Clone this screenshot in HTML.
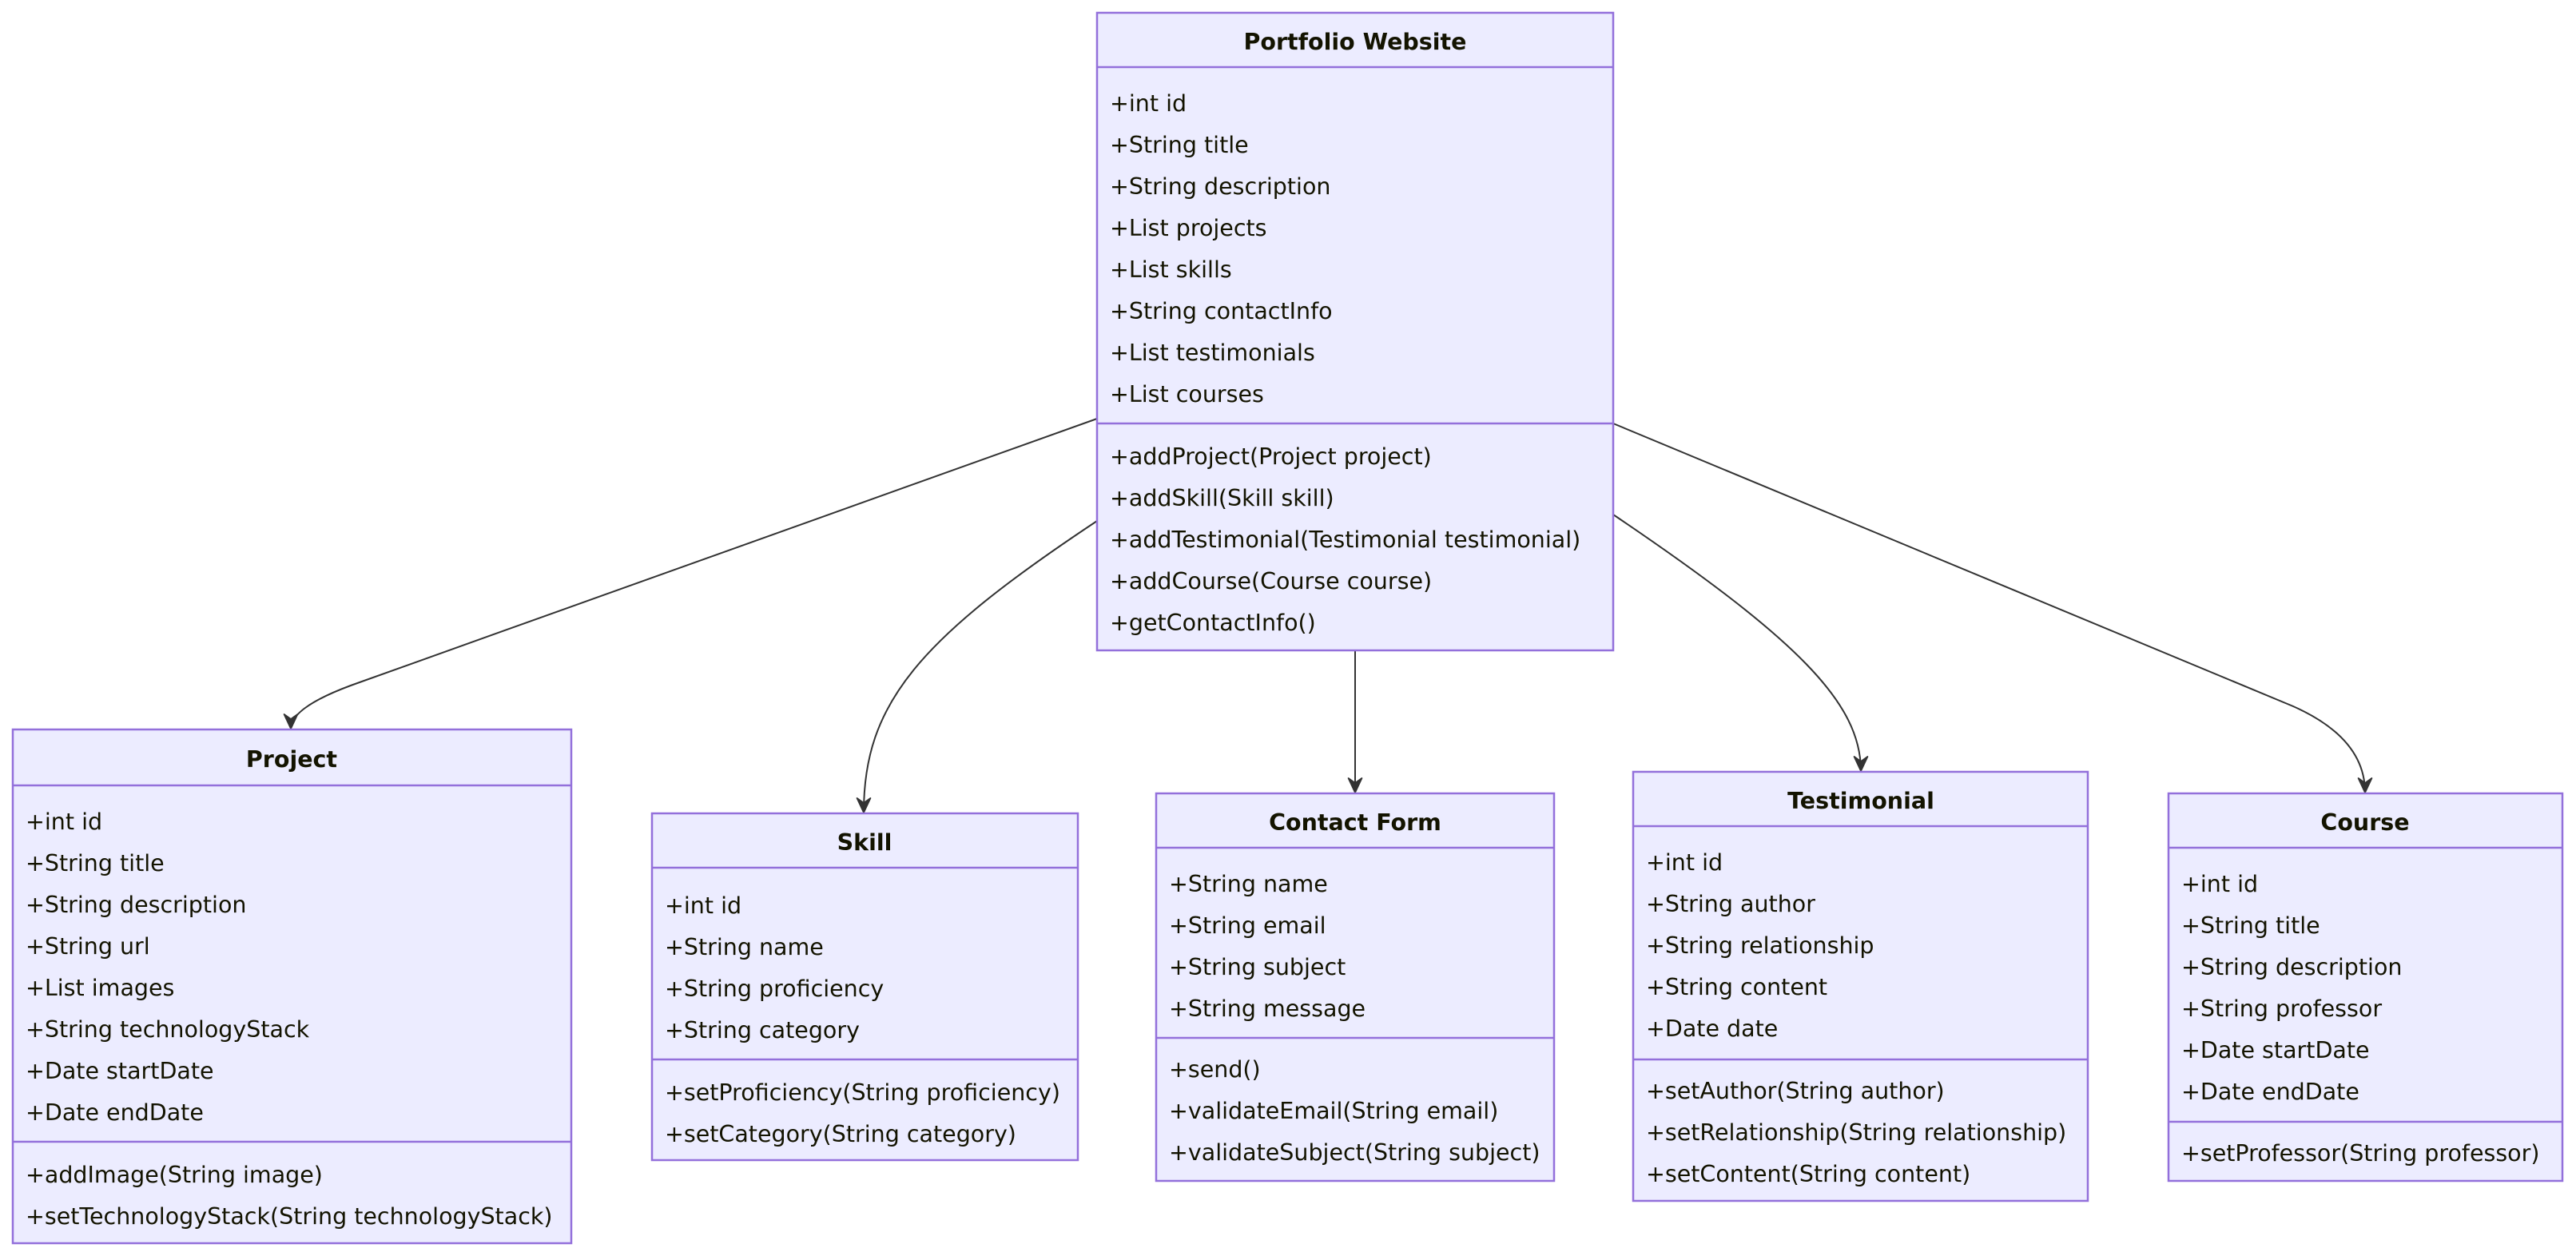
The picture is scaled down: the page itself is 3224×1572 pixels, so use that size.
<!DOCTYPE html>
<html><head><meta charset="utf-8"><style>
html,body{margin:0;padding:0;background:#fff;}
svg{display:block;}
text{font-family:"DejaVu Sans","Liberation Sans",sans-serif;font-size:28.5px;fill:#131300;dominant-baseline:middle;}
.h{font-weight:bold;text-anchor:middle;}
rect{fill:#ECECFF;stroke:#9370DB;stroke-width:2.5;}
line.d{stroke:#9370DB;stroke-width:2.5;}
path.e{fill:none;stroke:#333;stroke-width:2;}
</style></head><body>
<svg width="3224" height="1572" viewBox="0 0 3224 1572" xmlns="http://www.w3.org/2000/svg">
<defs>
<marker id="a" viewBox="0 0 20 20" refX="18" refY="10" markerWidth="24" markerHeight="24" markerUnits="userSpaceOnUse" orient="auto">
<path d="M3,3 L18,10 L3,17 L8,10 Z" fill="#333" stroke="#333" stroke-width="1.5" stroke-linejoin="round"/>
</marker>
</defs>
<g transform="translate(0,4)">
<path class="e" d="M1373,520 L450,850 Q364,880 364,908" marker-end="url(#a)"/>
<path class="e" d="M1373,648 C1150,796 1081,876 1081,1013" marker-end="url(#a)"/>
<path class="e" d="M1696,810 L1696,988" marker-end="url(#a)"/>
<path class="e" d="M2019,640 C2250,796 2329,876 2329,961" marker-end="url(#a)"/>
<path class="e" d="M2019,526 L2870,880 Q2960,920 2960,988" marker-end="url(#a)"/>
</g>
<!-- Portfolio Website -->
<rect x="1373" y="16" width="646" height="798"/>
<line class="d" x1="1373" y1="84" x2="2019" y2="84"/>
<line class="d" x1="1373" y1="530" x2="2019" y2="530"/>
<g transform="translate(0,4)">
<text class="h" x="1696" y="50">Portfolio Website</text>
<text x="1389" y="127">+int id</text>
<text x="1389" y="179">+String title</text>
<text x="1389" y="231">+String description</text>
<text x="1389" y="283">+List projects</text>
<text x="1389" y="335">+List skills</text>
<text x="1389" y="387">+String contactInfo</text>
<text x="1389" y="439">+List testimonials</text>
<text x="1389" y="491">+List courses</text>
<text x="1389" y="569">+addProject(Project project)</text>
<text x="1389" y="621">+addSkill(Skill skill)</text>
<text x="1389" y="673">+addTestimonial(Testimonial testimonial)</text>
<text x="1389" y="725">+addCourse(Course course)</text>
<text x="1389" y="777">+getContactInfo()</text>
</g>
<!-- Project -->
<rect x="16" y="913" width="699" height="643"/>
<line class="d" x1="16" y1="983" x2="715" y2="983"/>
<line class="d" x1="16" y1="1429" x2="715" y2="1429"/>
<g transform="translate(0,4)">
<text class="h" x="365" y="948">Project</text>
<text x="32" y="1026">+int id</text>
<text x="32" y="1078">+String title</text>
<text x="32" y="1130">+String description</text>
<text x="32" y="1182">+String url</text>
<text x="32" y="1234">+List images</text>
<text x="32" y="1286">+String technologyStack</text>
<text x="32" y="1338">+Date startDate</text>
<text x="32" y="1390">+Date endDate</text>
<text x="32" y="1468">+addImage(String image)</text>
<text x="32" y="1520">+setTechnologyStack(String technologyStack)</text>
</g>
<!-- Skill -->
<rect x="816" y="1018" width="533" height="434"/>
<line class="d" x1="816" y1="1086" x2="1349" y2="1086"/>
<line class="d" x1="816" y1="1326" x2="1349" y2="1326"/>
<g transform="translate(0,4)">
<text class="h" x="1082" y="1052">Skill</text>
<text x="832" y="1131">+int id</text>
<text x="832" y="1183">+String name</text>
<text x="832" y="1235">+String proficiency</text>
<text x="832" y="1287">+String category</text>
<text x="832" y="1365">+setProficiency(String proficiency)</text>
<text x="832" y="1417">+setCategory(String category)</text>
</g>
<!-- Contact Form -->
<rect x="1447" y="993" width="498" height="485"/>
<line class="d" x1="1447" y1="1061" x2="1945" y2="1061"/>
<line class="d" x1="1447" y1="1299" x2="1945" y2="1299"/>
<g transform="translate(0,4)">
<text class="h" x="1696" y="1027">Contact Form</text>
<text x="1463" y="1104">+String name</text>
<text x="1463" y="1156">+String email</text>
<text x="1463" y="1208">+String subject</text>
<text x="1463" y="1260">+String message</text>
<text x="1463" y="1336">+send()</text>
<text x="1463" y="1388">+validateEmail(String email)</text>
<text x="1463" y="1440">+validateSubject(String subject)</text>
</g>
<!-- Testimonial -->
<rect x="2044" y="966" width="569" height="537"/>
<line class="d" x1="2044" y1="1034" x2="2613" y2="1034"/>
<line class="d" x1="2044" y1="1326" x2="2613" y2="1326"/>
<g transform="translate(0,4)">
<text class="h" x="2329" y="1000">Testimonial</text>
<text x="2060" y="1077">+int id</text>
<text x="2060" y="1129">+String author</text>
<text x="2060" y="1181">+String relationship</text>
<text x="2060" y="1233">+String content</text>
<text x="2060" y="1285">+Date date</text>
<text x="2060" y="1363">+setAuthor(String author)</text>
<text x="2060" y="1415">+setRelationship(String relationship)</text>
<text x="2060" y="1467">+setContent(String content)</text>
</g>
<!-- Course -->
<rect x="2714" y="993" width="493" height="485"/>
<line class="d" x1="2714" y1="1061" x2="3207" y2="1061"/>
<line class="d" x1="2714" y1="1404" x2="3207" y2="1404"/>
<g transform="translate(0,4)">
<text class="h" x="2960" y="1027">Course</text>
<text x="2730" y="1104">+int id</text>
<text x="2730" y="1156">+String title</text>
<text x="2730" y="1208">+String description</text>
<text x="2730" y="1260">+String professor</text>
<text x="2730" y="1312">+Date startDate</text>
<text x="2730" y="1364">+Date endDate</text>
<text x="2730" y="1441">+setProfessor(String professor)</text>
</g>
</svg>
</body></html>
